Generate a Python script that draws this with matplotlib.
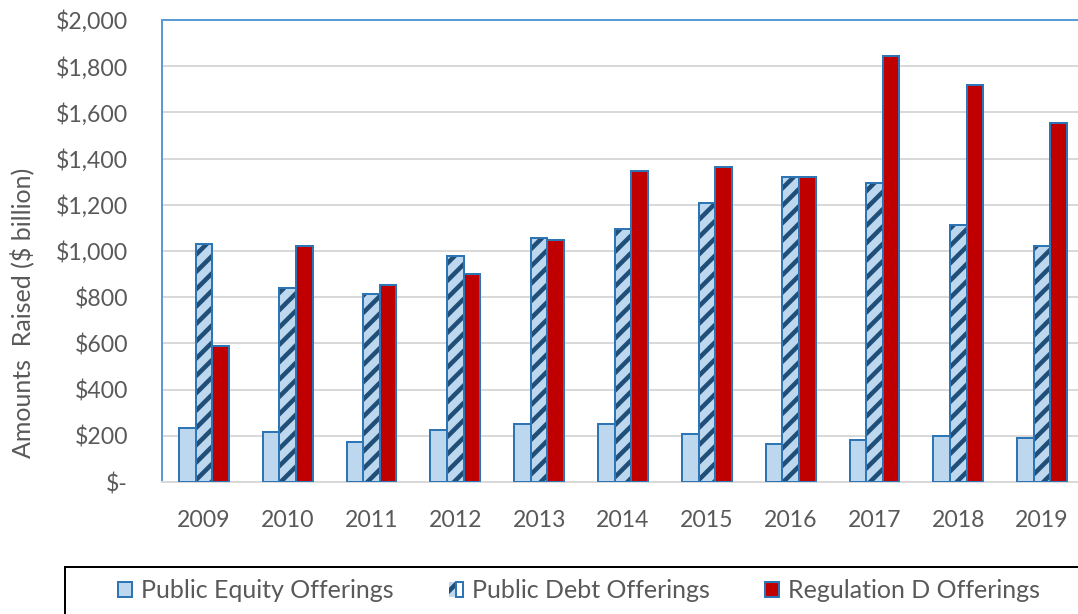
import numpy as np
import matplotlib
matplotlib.use('Agg')
from matplotlib import pyplot as plt
from matplotlib.patches import Rectangle
from matplotlib.legend_handler import HandlerTuple

YEARS = ['2009', '2010', '2011', '2012', '2013', '2014', '2015', '2016', '2017', '2018', '2019']
EQUITY = [234, 216, 173, 225, 251, 251, 208, 165, 182, 199, 190]
DEBT = [1030, 840, 814, 978, 1056, 1095, 1208, 1320, 1295, 1113, 1022]
REG_D = [589, 1022, 853, 900, 1048, 1346, 1364, 1320, 1845, 1719, 1555]
YTICKS = [0, 200, 400, 600, 800, 1000, 1200, 1400, 1600, 1800, 2000]

TEXT = '#595959'
EDGE = '#2E75B6'
LIGHT = '#BDD7EE'
NAVY = '#1F4E79'
RED = '#C00000'

# hatch spacing is tied to dpi, so work at 156 dpi and size things in pixels
DPI = 156
W, H = 1078, 614


def px(v):
    return v * 72 / DPI


def money(v):
    return '$-' if v == 0 else f'${v:,.0f}'


def main():
    plt.rcParams['font.family'] = ['Lato', 'DejaVu Sans']
    plt.rcParams['hatch.linewidth'] = px(4.5)

    fig = plt.figure(figsize=(W / DPI, H / DPI), dpi=DPI)
    ax = fig.add_axes([162 / W, 1 - 482 / H, (1084 - 162) / W, (482 - 20) / H])

    x = np.arange(len(YEARS))
    bw = 0.198
    lw = px(2)
    h_eq = ax.bar(x - bw, EQUITY, bw, color=LIGHT, edgecolor=EDGE, linewidth=lw, zorder=3)
    h_debt = ax.bar(x, DEBT, bw, color=LIGHT, edgecolor=NAVY, linewidth=0, hatch='///', zorder=3)
    h_debt_edge = ax.bar(x, DEBT, bw, fill=False, edgecolor=EDGE, linewidth=lw, zorder=4)
    h_reg = ax.bar(x + bw, REG_D, bw, color=RED, edgecolor=EDGE, linewidth=lw, zorder=3)

    ax.set_xlim(-0.5, 10.5)
    ax.set_ylim(0, 2000)
    ax.set_yticks(YTICKS)
    ax.set_yticklabels([money(v) for v in YTICKS])
    ax.set_xticks(x)
    ax.set_xticklabels(YEARS)
    ax.tick_params(axis='both', length=0, labelsize=px(23), colors=TEXT)
    ax.tick_params(axis='y', pad=px(34))
    ax.tick_params(axis='x', pad=px(28))
    ax.yaxis.grid(True, color='#D9D9D9', linewidth=px(2), zorder=0)
    ax.set_axisbelow(True)

    for side in ['top', 'left']:
        ax.spines[side].set_color('#5B9BD5')
        ax.spines[side].set_linewidth(px(2))
    ax.spines['bottom'].set_color('#D9D9D9')
    ax.spines['bottom'].set_linewidth(px(2))
    ax.spines['right'].set_visible(False)

    fig.text(22 / W, 1 - 313 / H, 'Amounts  Raised ($ billion)', rotation=90,
             ha='center', va='center', fontsize=px(25), color=TEXT)

    # legend box, running off the bottom/right of the image
    fig.patches.append(Rectangle((65 / W, -0.1), 1.1, 0.1 + (614 - 567) / H,
                                 transform=fig.transFigure, fill=False,
                                 edgecolor='black', linewidth=px(2)))
    fig.legend([h_eq, (h_debt, h_debt_edge), h_reg],
               ['Public Equity Offerings', 'Public Debt Offerings', 'Regulation D Offerings'],
               handler_map={tuple: HandlerTuple(ndivide=None, pad=0)},
               loc='center', bbox_to_anchor=(579 / W, 1 - 591 / H), ncol=3,
               frameon=False, fontsize=px(25), handlelength=0.56, handleheight=0.56,
               handletextpad=0.36, columnspacing=2.2, labelcolor=TEXT)

    fig.savefig('out.png', dpi=DPI)
    plt.close('all')


if __name__ == '__main__':
    main()
